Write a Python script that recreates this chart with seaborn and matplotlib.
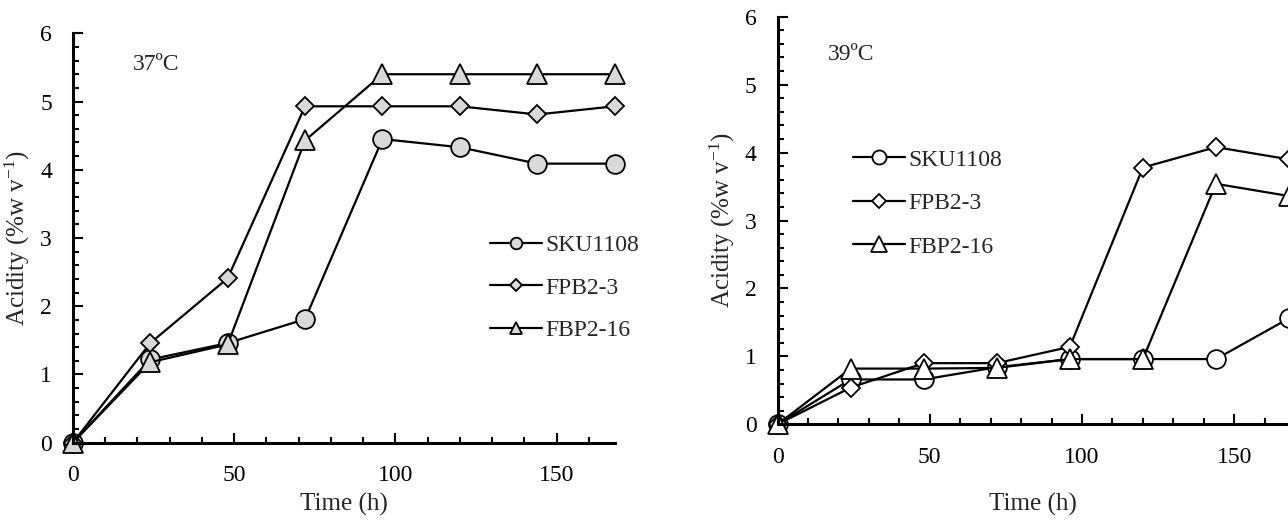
import numpy as np
import pandas as pd
import matplotlib
matplotlib.use("Agg")
import matplotlib.pyplot as plt
import seaborn as sns
from matplotlib.ticker import MultipleLocator

# sampling times (h)
time_h = [0, 24, 48, 72, 96, 120, 144, 168]

# 37 C acidity (% w/v)
sku_37 = [0, 1.22, 1.46, 1.81, 4.45, 4.33, 4.09, 4.09]
fpb_37 = [0, 1.46, 2.41, 4.93, 4.93, 4.93, 4.81, 4.93]
fbp_37 = [0, 1.18, 1.44, 4.43, 5.40, 5.40, 5.40, 5.40]

# 39 C acidity (% w/v)
sku_39 = [0, 0.66, 0.66, 0.84, 0.96, 0.96, 0.96, 1.56]
fpb_39 = [0, 0.54, 0.90, 0.90, 1.14, 3.78, 4.08, 3.90]
fbp_39 = [0, 0.82, 0.82, 0.83, 0.96, 0.96, 3.54, 3.36]

strains = ["SKU1108", "FPB2-3", "FBP2-16"]
markers = ["o", "D", "^"]
msizes = [13.5, 9.5, 14.5]

sns.set_style("ticks")
plt.rcParams["font.family"] = ["Liberation Serif", "DejaVu Serif"]
plt.rcParams["mathtext.fontset"] = "custom"
plt.rcParams["mathtext.rm"] = "Liberation Serif"
plt.rcParams["mathtext.it"] = "Liberation Serif:italic"

W, H = 1288, 520
fig = plt.figure(figsize=(W / 100, H / 100), dpi=100)
ax1 = fig.add_axes([72.9 / W, (H - 442.7) / H, 541.7 / W, 409.4 / H])
ax2 = fig.add_axes([777.6 / W, (H - 424.3) / H, 511.4 / W, 407.6 / H])


def draw_panel(ax, series, face, temp_label, text_xy, xlab_pad, leg_anchor,
               mscale, lspace):
    for name, vals, mk, ms in zip(strains, series, markers, msizes):
        sns.lineplot(x=time_h, y=vals, ax=ax, color="black", linewidth=1.6,
                     marker=mk, markersize=ms, markerfacecolor=face,
                     markeredgecolor="black", markeredgewidth=1.3,
                     label=name, clip_on=False, legend=False)

    ax.set_xlim(0, 168)
    ax.set_ylim(0, 6)
    ax.xaxis.set_major_locator(MultipleLocator(50))
    ax.xaxis.set_minor_locator(MultipleLocator(10))
    ax.yaxis.set_major_locator(MultipleLocator(1))
    ax.yaxis.set_minor_locator(MultipleLocator(0.2))
    ax.tick_params(which="both", direction="in", width=1.5, labelsize=17,
                   colors="black")
    ax.tick_params(axis="x", pad=16)
    ax.tick_params(axis="y", pad=15)
    ax.tick_params(which="major", length=7.5)
    ax.tick_params(which="minor", length=4.5)

    sns.despine(ax=ax)
    for side in ["left", "bottom"]:
        ax.spines[side].set_linewidth(2.2)
        ax.spines[side].set_color("black")

    ax.set_xlabel("Time (h)", fontsize=18, labelpad=xlab_pad)
    ax.set_ylabel("Acidity (%w v$^{-1}$)", fontsize=18, labelpad=6)
    ax.text(text_xy[0], text_xy[1], temp_label, fontsize=17, va="center")

    handles = ax.get_lines()[:3]
    ax.legend(handles=handles, labels=strains, loc="upper left",
              bbox_to_anchor=leg_anchor, frameon=False, fontsize=17,
              handlelength=2.2, handletextpad=0.15, labelspacing=lspace,
              borderpad=0, borderaxespad=0, markerscale=mscale, numpoints=1)


draw_panel(ax1, [sku_37, fpb_37, fbp_37], "#d9d9d9", "37ºC", (18.5, 5.55),
           5, (0.77, 0.508), 0.62, 0.88)
draw_panel(ax2, [sku_39, fpb_39, fbp_39], "white", "39ºC", (16.5, 5.45),
           18, (0.147, 0.675), 0.75, 0.93)

fig.savefig("out.png", dpi=100)
